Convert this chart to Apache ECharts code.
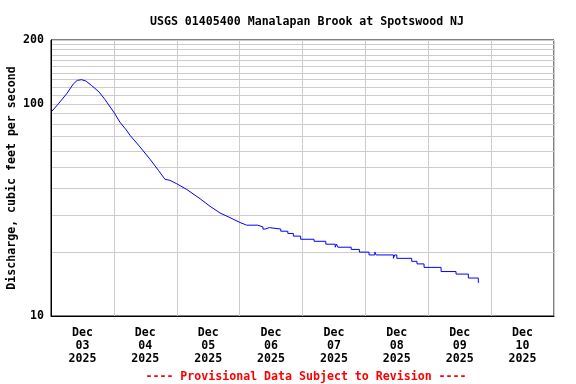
<!DOCTYPE html>
<html>
<head>
<meta charset="utf-8">
<script src="https://cdn.jsdelivr.net/npm/echarts@6/dist/echarts.min.js"></script>
<style>html,body{margin:0;padding:0;background:#fff;}#c{width:576px;height:384px;}</style>
</head>
<body>
<div id="c"></div>
<script>
// Hours since Dec 03 2025 00:00 and discharge (cfs)
var riseHours = [0.3, 2.8, 6.0, 8.5, 10.0, 11.7, 13.4, 15.5, 18.4, 20.6, 24.2, 26.3, 28.6, 30.2, 34.0, 37.8, 41.0, 43.5, 45.4, 48.0, 51.8, 56.9, 60.7, 64.5, 68.3, 72.1, 74.7];
var riseFlows = [92.2, 100, 111.7, 124, 129, 130, 128, 122, 113.6, 104.8, 90.5, 82, 75.7, 71, 62.6, 54.8, 48.6, 44.1, 43.6, 42.0, 39.5, 35.7, 32.9, 30.6, 29.1, 27.6, 26.8];
var stepHours = [74.7, 78.9, 80.9, 81.8, 83.3, 87.7, 90.4, 92.5, 95.3, 100.4, 104.9, 108.5, 109.0, 109.5, 114.6, 117.7, 121.4, 123.6, 124.1, 130.7, 131.2, 132.0, 137.7, 139.7, 142.4, 148.9, 154.6, 159.3, 163.1, 163.4];
var stepFlows = [26.8, 26.3, 25.7, 26.1, 25.7, 25.1, 24.5, 23.8, 23.0, 22.5, 21.8, 21.1, 21.8, 21.1, 20.6, 20.0, 19.4, 20.0, 19.4, 18.7, 19.4, 18.7, 18.1, 17.6, 16.95, 16.2, 15.76, 15.1, 14.4, 14.4];

var labelMonth = 'Dec';
var labelDays = ['03', '04', '05', '06', '07', '08', '09', '10'];
var labelYear = '2025';
var yLabels = [10, 100, 200];
var yGrid = [10, 20, 30, 40, 50, 60, 70, 80, 90, 100, 110, 120, 130, 140, 150, 160, 170, 180, 190, 200];

var titleText = 'USGS 01405400 Manalapan Brook at Spotswood NJ';
var footerText = '---- Provisional Data Subject to Revision ----';
var yName = 'Discharge, cubic feet per second';

function zip(a, b) { return a.map(function (v, i) { return [v, b[i]]; }); }

var FONT = 'DejaVu Sans Mono';
var chart = echarts.init(document.getElementById('c'), null, { renderer: 'canvas' });
chart.setOption({
  animation: false,
  backgroundColor: '#fff',
  title: [
    { text: titleText, left: 302, top: 11, textAlign: 'center',
      textStyle: { fontFamily: FONT, fontWeight: 'bold', fontSize: 11.6, color: '#000' } },
    { text: footerText, left: 301, top: 366, textAlign: 'center',
      textStyle: { fontFamily: FONT, fontWeight: 'bold', fontSize: 11.6, color: '#ff0000' } }
  ],
  grid: { left: 51, right: 22, top: 40, bottom: 68, containLabel: false, outerBoundsMode: 'none',
    show: true, borderColor: '#000', borderWidth: 1, backgroundColor: 'transparent' },
  xAxis: [
    { type: 'value', min: 0, max: 192, interval: 24,
      axisLine: { show: true, lineStyle: { color: '#000' } }, axisTick: { show: false }, axisLabel: { show: false },
      splitLine: { show: true, lineStyle: { color: '#cccccc', width: 1 } } },
    { type: 'value', min: 0, max: 192, interval: 12, position: 'bottom',
      axisLine: { show: false }, axisTick: { show: false }, splitLine: { show: false },
      axisLabel: { show: true, margin: 11, fontFamily: FONT, fontWeight: 'bold', fontSize: 11.6, color: '#000', lineHeight: 12.6,
        formatter: function (v) {
          if (v % 24 === 12) { return labelMonth + '\n' + labelDays[(v - 12) / 24] + '\n' + labelYear; }
          return '';
        } } }
  ],
  yAxis: {
    type: 'log', logBase: 10, min: 10, max: 200,
    name: yName, nameLocation: 'middle', nameGap: 33, nameRotate: 90, nameMoveOverlap: false,
    nameTextStyle: { fontFamily: FONT, fontWeight: 'bold', fontSize: 11.6, color: '#000' },
    axisLine: { show: true, lineStyle: { color: '#000' } },
    axisTick: { show: false, customValues: yGrid },
    axisLabel: { customValues: yLabels, margin: 7, fontFamily: FONT, fontWeight: 'bold', fontSize: 11.6, color: '#000' },
    splitLine: { show: true, lineStyle: { color: '#cccccc', width: 1 } }
  },
  series: [
    { type: 'line', xAxisIndex: 0, data: zip(riseHours, riseFlows), showSymbol: false, symbol: 'none',
      lineStyle: { color: '#0000ff', width: 1 }, z: 5 },
    { type: 'line', xAxisIndex: 0, step: 'end', data: zip(stepHours, stepFlows), showSymbol: false, symbol: 'none',
      lineStyle: { color: '#0000ff', width: 1 }, z: 5 }
  ]
});
</script>
</body>
</html>
